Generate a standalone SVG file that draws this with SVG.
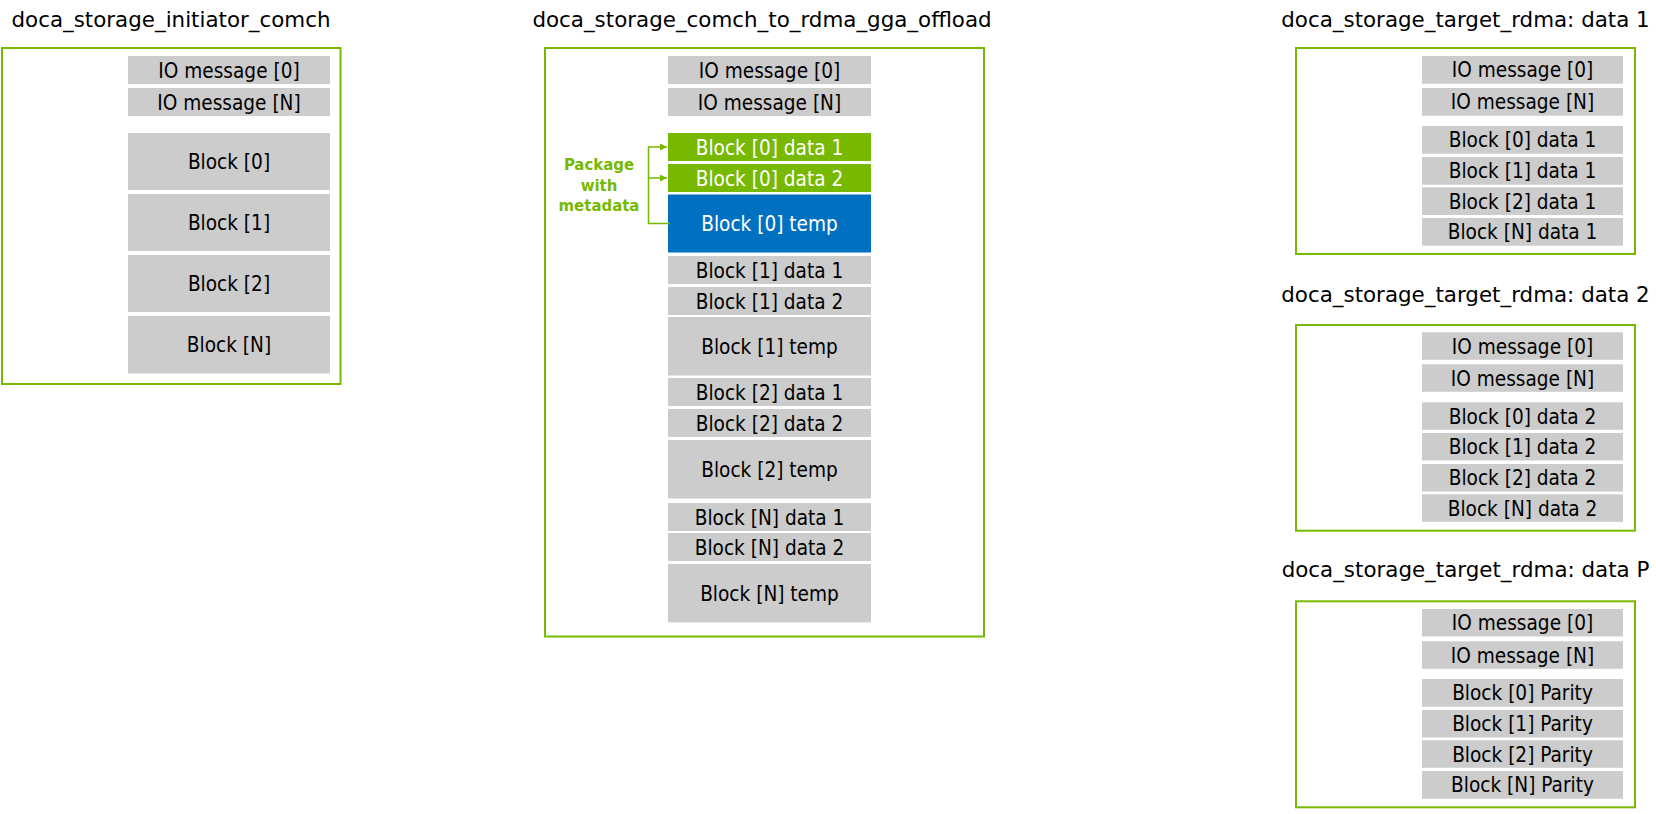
<svg xmlns="http://www.w3.org/2000/svg" width="1656" height="814" viewBox="0 0 1656 814">
<style>
.title{font-family:"DejaVu Sans",sans-serif;font-size:21.4px;fill:#000;text-anchor:middle}
.frame{fill:none;stroke:#76b900;stroke-width:2}
.g{fill:#cccccc}
.gr{fill:#76b900}
.bl{fill:#0070c0}
.lbl{font-family:"DejaVu Sans Condensed","DejaVu Sans",sans-serif;font-stretch:condensed;font-size:20.6px;fill:#000;text-anchor:middle}
.wl{font-family:"DejaVu Sans Condensed","DejaVu Sans",sans-serif;font-stretch:condensed;font-size:20.6px;fill:#fff;text-anchor:middle}
.pkg{font-family:"DejaVu Sans Condensed","DejaVu Sans",sans-serif;font-stretch:condensed;font-size:16.6px;font-weight:bold;fill:#76b900;text-anchor:middle}
.conn{fill:none;stroke:#76b900;stroke-width:1.5}
</style>
<defs>
<marker id="arr" markerUnits="userSpaceOnUse" markerWidth="8" markerHeight="7" refX="7" refY="3.5" orient="auto">
<path d="M0,0 L7,3.5 L0,7 z" fill="#76b900"/>
</marker>
</defs>
<rect width="1656" height="814" fill="#fff"/>

<g id="initiator">
<text class="title" x="171" y="26.5">doca_storage_initiator_comch</text>
<rect class="frame" x="2" y="48" width="338.5" height="336"/>
<g id="ini-io0"><rect class="g" x="128" y="56" width="202" height="28"/><text class="lbl" x="229" y="77.5">IO message [0]</text></g>
<g id="ini-ion"><rect class="g" x="128" y="88" width="202" height="28"/><text class="lbl" x="229" y="109.5">IO message [N]</text></g>
<g id="ini-b0"><rect class="g" x="128" y="133" width="202" height="57"/><text class="lbl" x="229" y="169">Block [0]</text></g>
<g id="ini-b1"><rect class="g" x="128" y="194" width="202" height="57"/><text class="lbl" x="229" y="230">Block [1]</text></g>
<g id="ini-b2"><rect class="g" x="128" y="255" width="202" height="57"/><text class="lbl" x="229" y="291">Block [2]</text></g>
<g id="ini-bn"><rect class="g" x="128" y="316" width="202" height="57.5"/><text class="lbl" x="229" y="352">Block [N]</text></g>
</g>

<g id="offload">
<text class="title" x="762" y="26.5">doca_storage_comch_to_rdma_gga_offload</text>
<rect class="frame" x="545" y="48" width="439" height="588.5"/>
<g id="off-io0"><rect class="g" x="668" y="56" width="203" height="28"/><text class="lbl" x="769.5" y="77.5">IO message [0]</text></g>
<g id="off-ion"><rect class="g" x="668" y="88" width="203" height="28"/><text class="lbl" x="769.5" y="109.5">IO message [N]</text></g>
<g id="off-b0d1"><rect class="gr" x="668" y="133" width="203" height="28"/><text class="wl" x="769.5" y="154.5">Block [0] data 1</text></g>
<g id="off-b0d2"><rect class="gr" x="668" y="164" width="203" height="28"/><text class="wl" x="769.5" y="185.5">Block [0] data 2</text></g>
<g id="off-b0t"><rect class="bl" x="668" y="194.5" width="203" height="58"/><text class="wl" x="769.5" y="231">Block [0] temp</text></g>
<g id="off-b1d1"><rect class="g" x="668" y="256" width="203" height="28"/><text class="lbl" x="769.5" y="277.5">Block [1] data 1</text></g>
<g id="off-b1d2"><rect class="g" x="668" y="287" width="203" height="28"/><text class="lbl" x="769.5" y="308.5">Block [1] data 2</text></g>
<g id="off-b1t"><rect class="g" x="668" y="317" width="203" height="58.5"/><text class="lbl" x="769.5" y="353.8">Block [1] temp</text></g>
<g id="off-b2d1"><rect class="g" x="668" y="378" width="203" height="28"/><text class="lbl" x="769.5" y="399.5">Block [2] data 1</text></g>
<g id="off-b2d2"><rect class="g" x="668" y="409" width="203" height="28"/><text class="lbl" x="769.5" y="430.5">Block [2] data 2</text></g>
<g id="off-b2t"><rect class="g" x="668" y="440" width="203" height="58.5"/><text class="lbl" x="769.5" y="476.8">Block [2] temp</text></g>
<g id="off-bnd1"><rect class="g" x="668" y="503" width="203" height="28"/><text class="lbl" x="769.5" y="524.5">Block [N] data 1</text></g>
<g id="off-bnd2"><rect class="g" x="668" y="533" width="203" height="28"/><text class="lbl" x="769.5" y="554.5">Block [N] data 2</text></g>
<g id="off-bnt"><rect class="g" x="668" y="564" width="203" height="58.3"/><text class="lbl" x="769.5" y="600.7">Block [N] temp</text></g>
<g id="pkg-label">
<text class="pkg" x="599" y="170">Package</text>
<text class="pkg" x="599" y="190.5">with</text>
<text class="pkg" x="599" y="211">metadata</text>
</g>
</g>

<g id="target1">
<text class="title" x="1465.5" y="26.5">doca_storage_target_rdma: data 1</text>
<rect class="frame" x="1296" y="48" width="339" height="206"/>
<g id="t1-io0"><rect class="g" x="1422" y="56" width="201" height="27.7"/><text class="lbl" x="1522.5" y="77.3">IO message [0]</text></g>
<g id="t1-ion"><rect class="g" x="1422" y="88" width="201" height="27.7"/><text class="lbl" x="1522.5" y="109.3">IO message [N]</text></g>
<g id="t1-b0"><rect class="g" x="1422" y="126" width="201" height="27.7"/><text class="lbl" x="1522.5" y="147.3">Block [0] data 1</text></g>
<g id="t1-b1"><rect class="g" x="1422" y="157" width="201" height="27.7"/><text class="lbl" x="1522.5" y="178.3">Block [1] data 1</text></g>
<g id="t1-b2"><rect class="g" x="1422" y="187.3" width="201" height="27.7"/><text class="lbl" x="1522.5" y="208.6">Block [2] data 1</text></g>
<g id="t1-bn"><rect class="g" x="1422" y="218" width="201" height="27.7"/><text class="lbl" x="1522.5" y="239.3">Block [N] data 1</text></g>
</g>

<g id="target2">
<text class="title" x="1465.5" y="301.7">doca_storage_target_rdma: data 2</text>
<rect class="frame" x="1296" y="325" width="339" height="205.7"/>
<g id="t2-io0"><rect class="g" x="1422" y="332.3" width="201" height="27.5"/><text class="lbl" x="1522.5" y="353.5">IO message [0]</text></g>
<g id="t2-ion"><rect class="g" x="1422" y="364.3" width="201" height="27.5"/><text class="lbl" x="1522.5" y="385.5">IO message [N]</text></g>
<g id="t2-b0"><rect class="g" x="1422" y="402.3" width="201" height="27.5"/><text class="lbl" x="1522.5" y="423.5">Block [0] data 2</text></g>
<g id="t2-b1"><rect class="g" x="1422" y="433" width="201" height="27.5"/><text class="lbl" x="1522.5" y="454.2">Block [1] data 2</text></g>
<g id="t2-b2"><rect class="g" x="1422" y="464" width="201" height="27.5"/><text class="lbl" x="1522.5" y="485.2">Block [2] data 2</text></g>
<g id="t2-bn"><rect class="g" x="1422" y="494.3" width="201" height="27.5"/><text class="lbl" x="1522.5" y="515.5">Block [N] data 2</text></g>
</g>

<g id="target3">
<text class="title" x="1465.5" y="577.3">doca_storage_target_rdma: data P</text>
<rect class="frame" x="1296" y="601.3" width="339" height="206"/>
<g id="t3-io0"><rect class="g" x="1422" y="609" width="201" height="27.5"/><text class="lbl" x="1522.5" y="630.2">IO message [0]</text></g>
<g id="t3-ion"><rect class="g" x="1422" y="641.3" width="201" height="27.5"/><text class="lbl" x="1522.5" y="662.5">IO message [N]</text></g>
<g id="t3-b0"><rect class="g" x="1422" y="679" width="201" height="27.7"/><text class="lbl" x="1522.5" y="700.3">Block [0] Parity</text></g>
<g id="t3-b1"><rect class="g" x="1422" y="710" width="201" height="27.5"/><text class="lbl" x="1522.5" y="731.2">Block [1] Parity</text></g>
<g id="t3-b2"><rect class="g" x="1422" y="740.3" width="201" height="27.5"/><text class="lbl" x="1522.5" y="761.5">Block [2] Parity</text></g>
<g id="t3-bn"><rect class="g" x="1422" y="771" width="201" height="27.7"/><text class="lbl" x="1522.5" y="792.3">Block [N] Parity</text></g>
</g>

<g id="connectors">
<path class="conn" d="M670,223.5 H648.5 V147 H667" marker-end="url(#arr)"/>
<path class="conn" d="M648.5,178 H667" marker-end="url(#arr)"/>
</g>
</svg>
